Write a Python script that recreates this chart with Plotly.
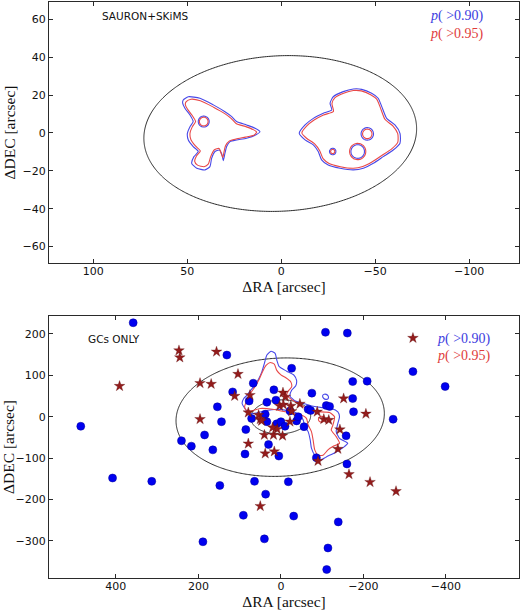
import numpy as np
import plotly.graph_objects as go

# ---------------- tick labels ----------------
top_xticks = [100, 50, 0, -50, -100]
top_yticks = [-60, -40, -20, 0, 20, 40, 60]
bot_xticks = [400, 200, 0, -200, -400]
bot_yticks = [-300, -200, -100, 0, 100, 200]

# ---------------- ellipse (1 Re) parameters ----------------
ell_cx, ell_cy, ell_a, ell_b, ell_pa = 0.5, -0.3, 72.6, 41.0, -2.9
bottom_ell_scales = [1.0, 3.48]

# ---------------- top panel: SAURON+SKiMS contours ----------------
top_blue_left_x = [52.1, 49.4, 43.2, 36.1, 29.9, 26.3, 23.7, 18.4, 13.9, 11.3, 13.4, 18.4, 23.7, 27.2, 29.0, 29.9, 30.8,
                   31.6, 32.9, 35.2, 37.0, 37.9, 40.5, 44.9, 47.6, 46.4, 44.1, 46.8, 49.4, 49.9, 48.5, 46.8, 48.5, 51.2, 52.4, 52.1]
top_blue_left_y = [17.4, 19.1, 18.3, 14.8, 11.2, 8.6, 6.0, 4.2, 2.5, 0.7, -1.0, -2.8, -3.7, -4.6, -7.2, -10.7, -14.6,
                   -11.1, -9.0, -9.8, -13.4, -17.8, -19.5, -18.6, -16.0, -12.5, -9.8, -7.2, -3.7, -0.2, 3.3, 6.0, 9.5, 13.0, 15.7, 17.4]
top_red_left_x = [50.5, 48.0, 43.0, 36.0, 30.0, 26.5, 24.0, 18.5, 15.0, 13.0, 14.5, 19.0, 24.0, 27.5, 29.6, 30.5, 31.0,
                  32.0, 33.0, 35.5, 37.5, 38.8, 41.0, 44.5, 46.0, 45.0, 43.0, 45.5, 48.0, 48.5, 47.3, 45.5, 47.3, 49.8, 51.0, 50.5]
top_red_left_y = [16.5, 17.8, 17.0, 13.6, 10.2, 7.6, 5.0, 3.2, 1.8, 0.5, -1.2, -2.2, -3.2, -4.2, -6.8, -10.5, -13.0,
                  -10.6, -8.2, -8.9, -12.5, -16.5, -17.8, -17.0, -15.0, -12.0, -9.5, -7.0, -3.6, -0.2, 3.2, 6.0, 9.2, 12.5, 15.0, 16.5]
top_blue_right_x = [-9.6, -12.7, -17.1, -22.4, -26.9, -26.0, -27.7, -33.0, -38.4, -42.8, -48.1, -51.6, -53.5, -56.1, -60.5,
                    -63.2, -63.2, -59.6, -54.3, -49.0, -43.7, -38.4, -31.3, -25.0, -21.5, -19.7, -17.1, -12.7, -9.6]
top_blue_right_y = [-0.2, 4.2, 7.7, 10.4, 12.1, 15.7, 19.1, 21.8, 23.2, 23.0, 20.9, 18.3, 13.9, 7.7, 4.2,
                    -0.2, -5.4, -9.0, -12.5, -16.0, -18.6, -19.5, -18.6, -16.9, -14.2, -9.8, -6.3, -3.7, -0.2]
top_red_right_x = [-11.0, -13.5, -17.5, -22.5, -27.8, -27.0, -28.5, -33.2, -38.4, -42.6, -47.6, -50.8, -52.7, -55.2, -59.5,
                   -62.0, -62.0, -58.8, -53.7, -48.5, -43.4, -38.4, -31.5, -25.5, -22.3, -20.5, -17.8, -13.5, -11.0]
top_red_right_y = [0.0, 3.6, 6.8, 9.5, 11.3, 15.5, 18.5, 21.0, 22.4, 22.2, 20.2, 17.8, 13.5, 7.2, 3.6,
                   -0.4, -5.0, -8.4, -11.8, -15.2, -17.7, -18.6, -17.8, -16.1, -13.6, -9.4, -5.8, -2.8, 0.0]
# holes: centre x, centre y, blue radius, red radius
hole_x = [41.2, -45.8, -40.7, -27.4]
hole_y = [6.0, -0.5, -9.8, -9.8]
hole_r_blue = [2.9, 3.3, 3.6, 1.7]
hole_r_red = [2.3, 2.5, 4.3, 1.1]

# ---------------- bottom panel: GC-only contours ----------------
bot_blue_x = [86, 94, 90, 82, 75, 64, 54, 46, 40, 34, 24, 14, 10, 4, -14, -32, -38, -36, -26, -22, -35, -55, -75, -100,
              -122, -138, -142, -138, -134, -142, -162, -154, -134, -110, -95, -82, -74, -71, -66, -58, -54, -45, -30,
              -10, 10, 40, 66, 80, 86]
bot_blue_y = [18, 32, 44, 52, 62, 75, 91, 109, 129, 149, 158, 153, 137, 121, 110, 100, 88, 75, 64, 50, 38, 32, 26, 22,
              20, 12, 0, -16, -36, -52, -64, -72, -85, -97, -105, -93, -76, -56, -36, -24, -8, 5, 12, 16, 18, 14, 8, 10, 18]
bot_blue_island_x = [-101, -104, -110, -115, -114, -109, -104]
bot_blue_island_y = [50, 54, 54, 49, 43, 42, 44]
bot_red_x = [88, 82, 74, 62, 52, 44, 36, 26, 16, 10, 0, -12, -24, -26, -18, -14, -28, -50, -68, -90, -118, -130, -126,
             -122, -134, -142, -126, -114, -102, -90, -82, -78, -74, -66, -62, -50, -30, -10, 20, 50, 72, 84, 88]
bot_red_y = [24, 40, 56, 74, 92, 110, 124, 131, 127, 112, 101, 94, 84, 72, 62, 52, 40, 28, 14, 12, 10, 0, -20,
             -32, -48, -64, -72, -80, -93, -93, -80, -56, -36, -20, -4, 4, 8, 12, 18, 20, 14, 16, 24]
bot_red_loop_x, bot_red_loop_y, bot_red_loop_r = -98.0, -6.0, 7.0

# ---------------- bottom panel: GC positions ----------------
blue_gc_x = [358, 485, 408, 313, 241, 217, 185, 154, 144, 165, 148, 189, 131, 117, 91, 87, 85, 77, 71, 67, 64, 40, 37,
             34, 38, 34, 30, 17, 12, 10, 5, 0, -10, -18, -22, -26, -31, -38, -42, -56, -66, -72, -75, -86, -108, -110, -118,
             -114, -111, -139, -158, -160, -161, -174, -174, -176, -209, -272, -320, -398]
blue_gc_y = [227, -23, -148, -156, -58, -71, -44, 24, -12, -80, -166, -302, 149, 60, -238, -90, -31, 38, -4, 81, -156,
             -295, -187, 35, 6, -12, -67, 65, 40, -17, -95, -12, -23, -157, 14, 117, -240, -10, 0, -24, 18, 15, 57, -99,
             204, 27, 25, -317, -369, -254, -46, -114, 202, 85, 44, 12, 86, -6, 109, 73]
red_gc_x = [391, 247, 245, 156, 196, 169, 196, 104, 112, 75, 79, 79, 54, 50, 47, 50, 40, 38, 16, 18, 9, 20, 3, -5, -4,
            -6, -11, -24, -26, -22, -46, -88, -90, -104, -116, -143, -138, -152, -165, -206, -216, -279, -320]
red_gc_y = [74, 160, 143, 157, 81, 79, -6, 103, 50, 52, 10, -65, 4, -6, -10, -216, -44, -89, -84, -44, -30, -26, 26, 58, -46,
            29, 48, 26, 13, -12, 31, 12, -107, -6, -8, -31, -78, 44, -139, 7, -158, -180, 190]

BLUE_C = "#4848e8"
RED_C = "#e84848"
AXC = "#2a2a2a"

fig = go.Figure()


def ellipse_xy(cx, cy, a, b, pa_deg, n=240):
    t = np.linspace(0, 2 * np.pi, n)
    th = np.radians(pa_deg)
    x = cx + a * np.cos(t) * np.cos(th) - b * np.sin(t) * np.sin(th)
    y = cy + a * np.cos(t) * np.sin(th) + b * np.sin(t) * np.cos(th)
    return x, y


def circle_xy(cx, cy, r, n=60):
    t = np.linspace(0, 2 * np.pi, n)
    return cx + r * np.cos(t), cy + r * np.sin(t)


def line(x, y, color, xa, ya, width=1.1):
    fig.add_trace(go.Scatter(x=x, y=y, mode="lines", line=dict(color=color, width=width, shape="spline", smoothing=0.6),
                             xaxis=xa, yaxis=ya, showlegend=False, hoverinfo="skip"))


# ---- top panel ----
ex, ey = ellipse_xy(ell_cx, ell_cy, ell_a, ell_b, ell_pa)
line(ex, ey, AXC, "x", "y", 1.0)
line(top_blue_left_x, top_blue_left_y, BLUE_C, "x", "y")
line(top_blue_right_x, top_blue_right_y, BLUE_C, "x", "y")
line(top_red_left_x, top_red_left_y, RED_C, "x", "y")
line(top_red_right_x, top_red_right_y, RED_C, "x", "y")
for cx, cy, rb, rr in zip(hole_x, hole_y, hole_r_blue, hole_r_red):
    cxs, cys = circle_xy(cx, cy, rb)
    line(cxs, cys, BLUE_C, "x", "y")
    cxs, cys = circle_xy(cx, cy, rr)
    line(cxs, cys, RED_C, "x", "y")

# ---- bottom panel ----
for s in bottom_ell_scales:
    ex, ey = ellipse_xy(ell_cx * s, ell_cy * s, ell_a * s, ell_b * s, ell_pa)
    line(ex, ey, AXC, "x2", "y2", 1.0)
line(bot_blue_x, bot_blue_y, BLUE_C, "x2", "y2")
line(bot_blue_island_x + bot_blue_island_x[:1], bot_blue_island_y + bot_blue_island_y[:1], BLUE_C, "x2", "y2")
line(bot_red_x, bot_red_y, RED_C, "x2", "y2")
cxs, cys = circle_xy(bot_red_loop_x, bot_red_loop_y, bot_red_loop_r)
line(cxs, cys, RED_C, "x2", "y2")

fig.add_trace(go.Scatter(x=blue_gc_x, y=blue_gc_y, mode="markers",
                         marker=dict(symbol="circle", size=8, color="#0000f0", line=dict(color="#00009a", width=0.5)),
                         xaxis="x2", yaxis="y2", showlegend=False))
fig.add_trace(go.Scatter(x=red_gc_x, y=red_gc_y, mode="markers",
                         marker=dict(symbol="star", size=8, color="#931c1c", line=dict(color="#5a0a0a", width=0.3)),
                         xaxis="x2", yaxis="y2", showlegend=False))

tickfont = dict(family="DejaVu Sans", size=11, color="#111")
titlefont = dict(family="Liberation Serif", size=15.5, color="#111")
axcommon = dict(showgrid=False, zeroline=False, showline=True, linecolor=AXC, linewidth=1.3, mirror="allticks",
                ticks="inside", ticklen=4, tickwidth=1, tickcolor=AXC, tickfont=tickfont, automargin=False)

fig.update_layout(
    width=520, height=610,
    margin=dict(l=49, r=1, t=2, b=32),
    paper_bgcolor="white", plot_bgcolor="white",
    xaxis=dict(domain=[0, 1], anchor="y", range=[123.5, -126.5], tickvals=top_xticks, ticklabelstandoff=-2,
               title=dict(text="ΔRA [arcsec]", font=titlefont, standoff=3), **axcommon),
    yaxis=dict(domain=[0.547, 1], anchor="x", range=[-68.6, 69.1], tickvals=top_yticks,
               title=dict(text="ΔDEC [arcsec]", font=titlefont, standoff=2), **axcommon),
    xaxis2=dict(domain=[0, 1], anchor="y2", range=[562, -577], tickvals=bot_xticks, ticklabelstandoff=-2,
                title=dict(text="ΔRA [arcsec]", font=titlefont, standoff=2), **axcommon),
    yaxis2=dict(domain=[0, 0.455], anchor="x2", range=[-389.5, 243.5], tickvals=bot_yticks,
                title=dict(text="ΔDEC [arcsec]", font=titlefont, standoff=2), **axcommon),
)

ann_font = dict(family="DejaVu Sans", size=10.5, color="#111")
leg_font_b = dict(family="Liberation Serif", size=14, color="#3c3ce0")
leg_font_r = dict(family="Liberation Serif", size=14, color="#e03c3c")
annotations = [
    dict(x=96.4, y=61.7, xref="x", yref="y", text="SAURON+SKiMS", font=ann_font),
    dict(x=-78.1, y=61.7, xref="x", yref="y", text="<i>p</i>( >0.90)", font=leg_font_b),
    dict(x=-78.1, y=52.2, xref="x", yref="y", text="<i>p</i>( >0.95)", font=leg_font_r),
    dict(x=472, y=188, xref="x2", yref="y2", text="GCs ONLY", font=ann_font),
    dict(x=-373.6, y=188, xref="x2", yref="y2", text="<i>p</i>( >0.90)", font=leg_font_b),
    dict(x=-373.6, y=147.6, xref="x2", yref="y2", text="<i>p</i>( >0.95)", font=leg_font_r),
]
for a in annotations:
    a.update(showarrow=False, xanchor="left", yanchor="middle")
fig.update_layout(annotations=annotations)

fig.write_html("out.html", config={"displayModeBar": False},
               post_script="document.body.style.margin='0px';document.body.style.overflow='hidden';")
